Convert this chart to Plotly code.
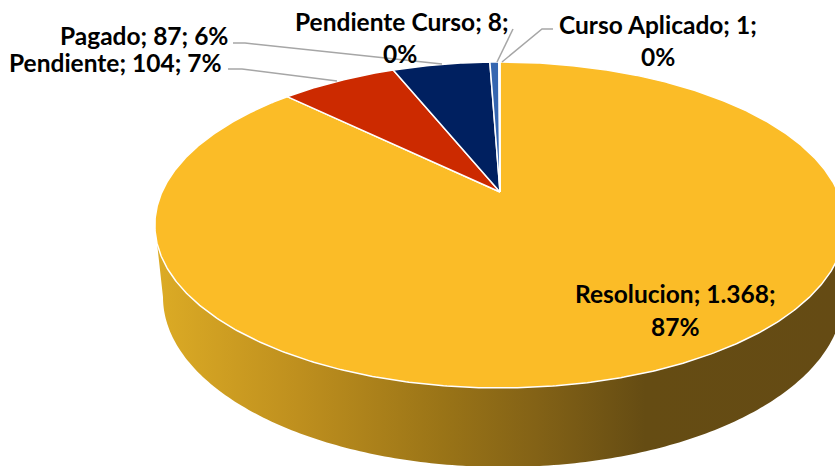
import numpy as np
import plotly.graph_objects as go

# Data (clockwise from 12 o'clock)
categories = ["Resolucion", "Pendiente", "Pagado", "Pendiente Curso", "Curso Aplicado"]
values = [1368, 104, 87, 8, 1]
value_labels = ["1.368", "104", "87", "8", "1"]
percent_labels = ["87%", "7%", "6%", "0%", "0%"]
colors = ["#FBBC27", "#CC2A00", "#002060", "#3566B0", "#FBBC27"]

W, H = 835, 466
CX, CY = 500.0, 192.0      # projected pie centre
A, B, K = 338.0, 156.3, 0.2025   # perspective of the top disc


def rim(theta):
    u, v = np.sin(theta), np.cos(theta)
    d = 1 + K * v
    return CX + A * u / d, CY - B * v / d


total = sum(values)
edges = 2 * np.pi * np.cumsum([0] + values) / total

fig = go.Figure()

# side wall: lower ellipse plus a join to the top rim
t = np.linspace(np.pi, 0, 200)
wall_x = 503 + 340 * np.cos(t)
wall_y = 297 + 170 * np.sin(t)
left_x, left_y = rim(np.radians(-108))
right_x, right_y = rim(np.radians(108))
fig.add_trace(go.Scatter(
    x=[left_x, *wall_x, right_x], y=[left_y, *wall_y, right_y],
    mode="none", fill="toself", hoverinfo="skip", showlegend=False,
    fillgradient=dict(
        type="horizontal", start=157, stop=835,
        colorscale=[[0, "#DCAB25"], [0.21, "#BE8F1E"], [0.42, "#9A7417"],
                    [0.56, "#836216"], [0.72, "#654C13"], [1, "#654B14"]],
    ),
))

# top disc
for name, a0, a1, col in zip(categories, edges[:-1], edges[1:], colors):
    th = np.linspace(a0, a1, max(3, int((a1 - a0) * 120)))
    rx, ry = rim(th)
    fig.add_trace(go.Scatter(
        x=[CX, *rx, CX], y=[CY, *ry, CY], name=name,
        mode="lines", fill="toself", fillcolor=col,
        line=dict(color="white", width=1.5), showlegend=False,
    ))

# leader lines
leaders = [
    [(233, 43), (245, 43), (442, 64)],
    [(228, 69), (242, 69), (337, 81)],
    [(513, 29), (497, 62)],
    [(553, 29), (542, 29), (502, 62)],
]
shapes = []
for pts in leaders:
    path = "M" + " L".join(f"{x},{y}" for x, y in pts)
    shapes.append(dict(type="path", path=path, xref="x", yref="y",
                       line=dict(color="#A6A6A6", width=1.5)))

font = dict(family="Lato", size=24.5, color="black", weight="bold")


def label(x, y, text, anchor="center"):
    return dict(x=x, y=y, xref="x", yref="y", text=text, showarrow=False,
                xanchor=anchor, yanchor="middle", font=font)


annotations = [
    label(675, 293, f"{categories[0]}; {value_labels[0]};"),
    label(675, 326, percent_labels[0]),
    label(224, 62, f"{categories[1]}; {value_labels[1]}; {percent_labels[1]}", "right"),
    label(230, 35, f"{categories[2]}; {value_labels[2]}; {percent_labels[2]}", "right"),
    label(402, 21, f"{categories[3]}; {value_labels[3]};"),
    label(400, 53, percent_labels[3]),
    label(658, 24, f"{categories[4]}; {value_labels[4]};"),
    label(658, 56, percent_labels[4]),
]

fig.update_layout(
    width=W, height=H, margin=dict(l=0, r=0, t=0, b=0),
    paper_bgcolor="white", plot_bgcolor="white",
    xaxis=dict(range=[0, W], visible=False, fixedrange=True),
    yaxis=dict(range=[H, 0], visible=False, fixedrange=True),
    shapes=shapes, annotations=annotations,
)
fig.write_html("out.html", config={"displayModeBar": False},
               post_script="document.body.style.margin='0';document.body.style.overflow='hidden';")
